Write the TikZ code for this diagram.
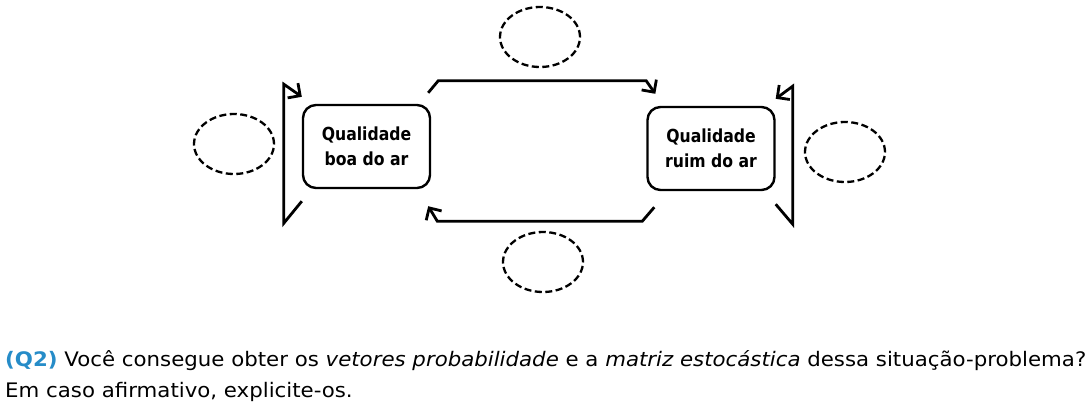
\documentclass[tikz,border=0pt]{standalone}
\usepackage{fontspec}
\setmainfont{DejaVu Sans}
\usetikzlibrary{arrows.meta,shapes.geometric}
\definecolor{qblue}{RGB}{38,140,200}
\tikzset{>={Straight Barb[length=9pt,width=18pt]}}
\tikzset{
  state/.style={draw,line width=2.4pt,rounded corners=13pt,minimum width=127pt,
    minimum height=83pt,inner sep=0pt,align=center,font=\fontsize{18}{25}\selectfont\bfseries},
  prob/.style={draw,ellipse,dash pattern=on 7pt off 3.5pt,line width=2.3pt,
    minimum width=80pt,minimum height=60pt,inner sep=0pt},
  link/.style={->,line width=2.8pt}
}
\newcommand{\narrow}[1]{\scalebox{0.87}[1]{#1}}

\begin{document}
\begin{tikzpicture}[x=1pt,y=-1pt]
            \draw[draw=none,use as bounding box] (0,0) rectangle (1090,410);
            \node[state] (boa) at (366.5,146.5){\narrow{Qualidade}\\\narrow{boa do ar}};
            \node[state] (ruim) at (711,148.5){\narrow{Qualidade}\\\narrow{ruim do ar}};
            \node[prob] (pt) at (540,37){};
            \node[prob] (pl) at (234,144){};
            \node[prob] (pr) at (845,152){};
            \node[prob] (pb) at (543,262){};
            \draw[link] ([shift={(-3,-11)}]boa.north east) -- ++(10,-12) -- ++(208,0) -- ([shift={(9,-12)}]ruim.north west);
            \draw[link] ([shift={(8,16)}]ruim.south west) -- ++(-12,14) -- ++(-205,0) -- ([shift={(-3,17)}]boa.south east);
            \draw[link] ([shift={(0,12)}]boa.south west) -- ++(-18,22) -- ++(0,-139) -- ([shift={(0,-7)}]boa.north west);
            \draw[link] ([shift={(0,13)}]ruim.south east) -- ++(17,20) -- ++(0,-138) -- ([shift={(0,-7)}]ruim.north east);
            \node[anchor=base west,inner sep=0pt] (q1) at (5,366){\scalebox{1.065}[1]{\fontsize{20}{24}\selectfont
              \textcolor{qblue}{\bfseries (Q2)} Você consegue obter os \textit{vetores probabilidade} e a \textit{matriz estocástica} dessa situação-problema?}};
            \node[anchor=base west,inner sep=0pt] (q2) at (5,397){\scalebox{1.065}[1]{\fontsize{20}{24}\selectfont
              Em caso afirmativo, explicite-os.}};
\end{tikzpicture}
\end{document}
